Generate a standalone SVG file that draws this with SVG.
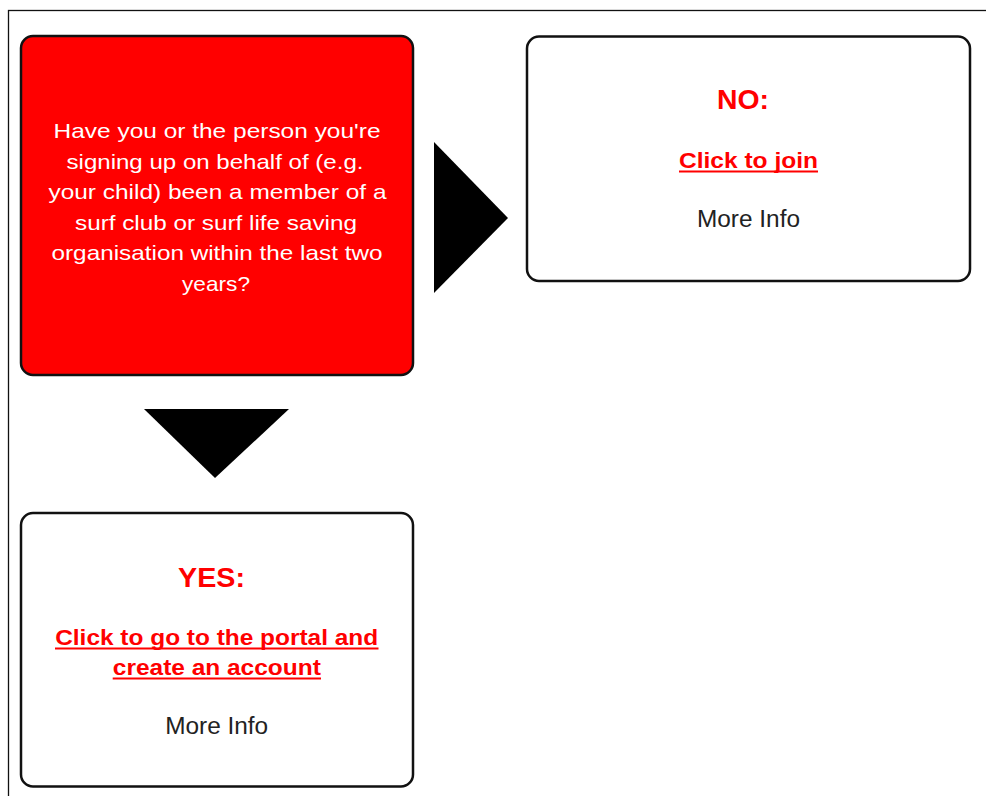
<svg xmlns="http://www.w3.org/2000/svg" width="986" height="796" viewBox="0 0 986 796">
<style>
.box{stroke:#111;stroke-width:2.5;}
.q{fill:#ffffff;font-family:"Liberation Sans",Arial,sans-serif;font-size:21px;text-anchor:middle;}
.h{fill:#ff0000;font-family:"Liberation Sans",Arial,sans-serif;font-size:27px;font-weight:bold;text-anchor:middle;}
.lk{fill:#ff0000;font-family:"Liberation Sans",Arial,sans-serif;font-size:22px;font-weight:bold;text-anchor:middle;}
.ul{stroke:#ff0000;stroke-width:2;}
.mi{fill:#222;font-family:"Liberation Sans",Arial,sans-serif;font-size:23px;text-anchor:middle;}
.arr{fill:#000;}
</style>
<rect x="0" y="0" width="986" height="796" fill="#fff"/>
<rect x="8.5" y="10.5" width="1000" height="800" fill="none" stroke="#111" stroke-width="1.3"/>
<g id="question">
<rect class="box" x="21" y="36" width="392" height="339" rx="12" fill="#ff0000"/>
<text class="q" x="217" y="138" textLength="327" lengthAdjust="spacingAndGlyphs">Have you or the person you're</text>
<text class="q" x="215" y="168.5" textLength="297" lengthAdjust="spacingAndGlyphs">signing up on behalf of (e.g.</text>
<text class="q" x="217.5" y="199" textLength="338" lengthAdjust="spacingAndGlyphs">your child) been a member of a</text>
<text class="q" x="216" y="229.5" textLength="282" lengthAdjust="spacingAndGlyphs">surf club or surf life saving</text>
<text class="q" x="217" y="260" textLength="331" lengthAdjust="spacingAndGlyphs">organisation within the last two</text>
<text class="q" x="216" y="290.5" textLength="68" lengthAdjust="spacingAndGlyphs">years?</text>
</g>
<g id="no">
<rect class="box" x="527" y="36.5" width="443" height="244.5" rx="12" fill="#fff"/>
<text class="h" x="743" y="108.5" textLength="52" lengthAdjust="spacingAndGlyphs">NO:</text>
<text class="lk" x="748.5" y="168" textLength="139" lengthAdjust="spacingAndGlyphs">Click to join</text>
<line class="ul" x1="679" y1="171.5" x2="818" y2="171.5"/>
<text class="mi" x="748.5" y="226.5" textLength="103" lengthAdjust="spacingAndGlyphs">More Info</text>
</g>
<g id="yes">
<rect class="box" x="21" y="513" width="392" height="273.5" rx="12" fill="#fff"/>
<text class="h" x="211.5" y="586.5" textLength="67" lengthAdjust="spacingAndGlyphs">YES:</text>
<text class="lk" x="216.7" y="645" textLength="323" lengthAdjust="spacingAndGlyphs">Click to go to the portal and</text>
<line class="ul" x1="55" y1="648.5" x2="378.5" y2="648.5"/>
<text class="lk" x="216.8" y="675" textLength="208" lengthAdjust="spacingAndGlyphs">create an account</text>
<line class="ul" x1="112.7" y1="678.5" x2="321" y2="678.5"/>
<text class="mi" x="216.7" y="734" textLength="103" lengthAdjust="spacingAndGlyphs">More Info</text>
</g>
<g id="connectors">
<polygon class="arr" points="434,142 508,218 434,293"/>
<polygon class="arr" points="144,409 289,409 215,478"/>
</g>
</svg>
